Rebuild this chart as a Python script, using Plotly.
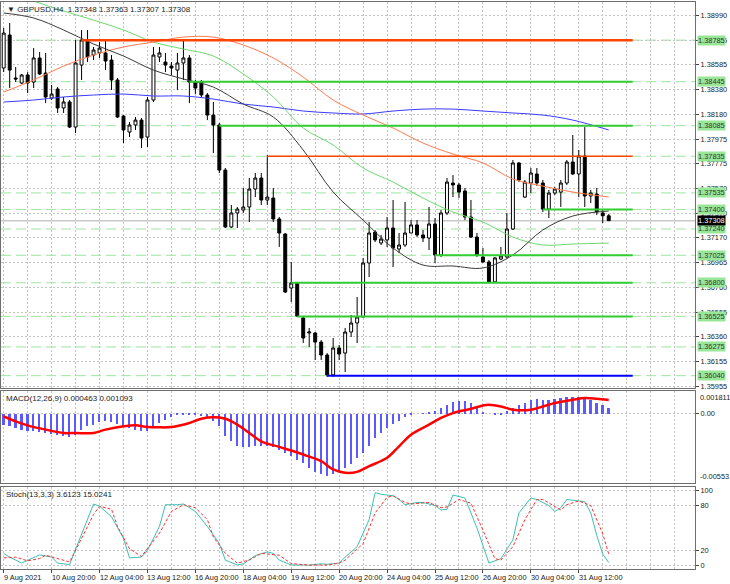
import plotly.graph_objects as go
from plotly.subplots import make_subplots

# GBPUSD H4 bars (index 0 = 9 Aug 12:00)
opens = [1.38557, 1.38827, 1.38475, 1.38434, 1.38500, 1.38442, 1.38639, 1.38516, 1.38311, 1.38385,
         1.38230, 1.38279, 1.38074, 1.38581, 1.38786, 1.38663, 1.38680, 1.38680, 1.38622, 1.38459,
         1.38164, 1.38033, 1.38091, 1.38131, 1.37992, 1.38295, 1.38647, 1.38606, 1.38573, 1.38540,
         1.38598, 1.38639, 1.38442, 1.38442, 1.38336, 1.38172, 1.38091, 1.37722, 1.37256, 1.37371,
         1.37395, 1.37420, 1.37567, 1.37657, 1.37477, 1.37493, 1.37322, 1.37199, 1.36757, 1.36798,
         1.36512, 1.36389, 1.36389, 1.36315, 1.36209, 1.36046, 1.36266, 1.36225, 1.36397, 1.36471,
         1.36520, 1.36962, 1.37215, 1.37125, 1.37150, 1.37248, 1.37076, 1.37109, 1.37207, 1.37273,
         1.37191, 1.37166, 1.37281, 1.37027, 1.37371, 1.37616, 1.37600, 1.37551, 1.37338, 1.37174,
         1.37011, 1.36970, 1.36807, 1.36994, 1.37011, 1.37240, 1.37780, 1.37501, 1.37616, 1.37690,
         1.37616, 1.37403, 1.37534, 1.37542, 1.37616, 1.37788, 1.37690, 1.37837, 1.37510, 1.37526,
         1.37371, 1.37348]
highs = [1.38884, 1.38925, 1.38565, 1.38508, 1.38524, 1.38720, 1.38688, 1.38680, 1.38418, 1.38401,
         1.38320, 1.38295, 1.38786, 1.38868, 1.38868, 1.38729, 1.38769, 1.38786, 1.38663, 1.38475,
         1.38172, 1.38115, 1.38156, 1.38148, 1.38320, 1.38729, 1.38729, 1.38680, 1.38606, 1.38680,
         1.38786, 1.38663, 1.38459, 1.38459, 1.38352, 1.38279, 1.38107, 1.37739, 1.37436, 1.37420,
         1.37575, 1.37657, 1.37698, 1.37698, 1.37845, 1.37575, 1.37338, 1.37207, 1.36970, 1.36807,
         1.36520, 1.36430, 1.36397, 1.36332, 1.36225, 1.36348, 1.36291, 1.36430, 1.36537, 1.36684,
         1.37003, 1.37297, 1.37232, 1.37191, 1.37338, 1.37477, 1.37207, 1.37461, 1.37313, 1.37313,
         1.37232, 1.37420, 1.37330, 1.37395, 1.37657, 1.37681, 1.37616, 1.37575, 1.37477, 1.37207,
         1.37084, 1.36986, 1.37011, 1.37093, 1.37371, 1.37804, 1.37788, 1.37641, 1.37739, 1.37739,
         1.37641, 1.37559, 1.37584, 1.37641, 1.37804, 1.38009, 1.37886, 1.38074, 1.37559, 1.37575,
         1.37395, 1.37363]
lows = [1.38524, 1.38393, 1.38442, 1.38426, 1.38352, 1.38393, 1.38500, 1.38270, 1.38295, 1.38189,
        1.38189, 1.38066, 1.38025, 1.38459, 1.38606, 1.38622, 1.38639, 1.38540, 1.38377, 1.38148,
        1.37943, 1.37992, 1.38050, 1.37902, 1.37911, 1.38279, 1.38606, 1.38524, 1.38500, 1.38377,
        1.38459, 1.38270, 1.38344, 1.38320, 1.38131, 1.37861, 1.37698, 1.37248, 1.37248, 1.37248,
        1.37371, 1.37297, 1.37501, 1.37436, 1.37436, 1.37297, 1.37093, 1.36716, 1.36642, 1.36520,
        1.36307, 1.36275, 1.36168, 1.36168, 1.36029, 1.36029, 1.36168, 1.36070, 1.36356, 1.36307,
        1.36520, 1.36847, 1.37133, 1.37109, 1.37093, 1.36929, 1.37044, 1.37093, 1.37207, 1.37174,
        1.37133, 1.37068, 1.36962, 1.37011, 1.37354, 1.37501, 1.37493, 1.37313, 1.37166, 1.37011,
        1.36962, 1.36798, 1.36798, 1.36986, 1.37003, 1.37232, 1.37624, 1.37493, 1.37534, 1.37592,
        1.37379, 1.37330, 1.37518, 1.37420, 1.37600, 1.37681, 1.37501, 1.37420, 1.37452, 1.37354,
        1.37289, 1.37307]
closes = [1.38843, 1.38540, 1.38467, 1.38500, 1.38434, 1.38639, 1.38508, 1.38320, 1.38344, 1.38230,
          1.38279, 1.38074, 1.38598, 1.38786, 1.38647, 1.38704, 1.38720, 1.38614, 1.38459, 1.38156,
          1.38050, 1.38091, 1.38131, 1.37984, 1.38295, 1.38663, 1.38680, 1.38581, 1.38557, 1.38598,
          1.38639, 1.38442, 1.38393, 1.38336, 1.38172, 1.38091, 1.37722, 1.37256, 1.37371, 1.37403,
          1.37420, 1.37567, 1.37657, 1.37477, 1.37501, 1.37322, 1.37207, 1.36724, 1.36798, 1.36528,
          1.36348, 1.36397, 1.36315, 1.36209, 1.36046, 1.36266, 1.36217, 1.36397, 1.36471, 1.36520,
          1.36962, 1.37207, 1.37150, 1.37158, 1.37248, 1.37084, 1.37109, 1.37207, 1.37273, 1.37191,
          1.37166, 1.37281, 1.37027, 1.37371, 1.37624, 1.37600, 1.37542, 1.37338, 1.37174, 1.37027,
          1.36970, 1.36807, 1.37003, 1.37019, 1.37240, 1.37780, 1.37641, 1.37624, 1.37698, 1.37616,
          1.37403, 1.37534, 1.37567, 1.37616, 1.37788, 1.37690, 1.37837, 1.37510, 1.37534, 1.37379,
          1.37348, 1.37308]
bars = list(range(len(closes)))

# moving averages, sampled every 5 bars
ma_bars = [0, 5, 10, 15, 20, 25, 30, 35, 40, 45, 50, 55, 60, 65, 70, 75, 80, 85, 90, 95, 101]
ma_black = [1.39007, 1.38966, 1.38868, 1.38753, 1.38655, 1.38540, 1.38467, 1.38401, 1.38262, 1.38156,
            1.37886, 1.37542, 1.37313, 1.37084, 1.36945, 1.36937, 1.36921, 1.37027, 1.37232, 1.37346, 1.37387]
ma_orange = [1.38360, 1.38459, 1.38573, 1.38663, 1.38729, 1.38769, 1.38810, 1.38810, 1.38745, 1.38639,
             1.38483, 1.38295, 1.38172, 1.38066, 1.37943, 1.37853, 1.37780, 1.37649, 1.37591, 1.37542, 1.37502]
ma_green = [1.39195, 1.39105, 1.39023, 1.38949, 1.38868, 1.38769, 1.38712, 1.38655, 1.38508, 1.38320,
            1.38066, 1.37927, 1.37739, 1.37624, 1.37493, 1.37379, 1.37297, 1.37174, 1.37109, 1.37117, 1.37125]
ma_blue = [1.38279, 1.38295, 1.38320, 1.38336, 1.38344, 1.38328, 1.38328, 1.38303, 1.38262, 1.38238,
           1.38205, 1.38189, 1.38181, 1.38205, 1.38221, 1.38221, 1.38205, 1.38189, 1.38172, 1.38131, 1.38050]

# horizontal levels
level_prices = [1.38785, 1.38445, 1.38085, 1.37835, 1.37535, 1.37400,
                1.37240, 1.37025, 1.36800, 1.36525, 1.36275, 1.36040]
solid_prices = [1.38785, 1.38445, 1.38085, 1.37835, 1.37400, 1.37025, 1.36800, 1.36525, 1.36040]
solid_start = [13, 31, 36, 44, 90, 72, 48, 49, 54]
solid_colors = ["#ff4500", "#32cd32", "#32cd32", "#ff4500", "#32cd32", "#32cd32", "#32cd32", "#32cd32", "#0000ff"]
solid_widths = [2.5, 2, 2, 1.3, 2, 2, 2, 2, 2]
last_price = 1.37308

price_ticks = [1.38990, 1.38785, 1.38585, 1.38380, 1.38180, 1.37975, 1.37775, 1.37570,
               1.37370, 1.37170, 1.36965, 1.36760, 1.36555, 1.36360, 1.36155, 1.35955]

# MACD(12,26,9)
macd_main = [-0.00087, -0.00101, -0.00114, -0.00127, -0.00140, -0.00140, -0.00146, -0.00154, -0.00162, -0.00172,
             -0.00180, -0.00188, -0.00167, -0.00127, -0.00101, -0.00087, -0.00066, -0.00061, -0.00066, -0.00082,
             -0.00101, -0.00114, -0.00127, -0.00140, -0.00140, -0.00109, -0.00074, -0.00048, -0.00029, -0.00013,
             -0.00008, -0.00003, -0.00008, -0.00021, -0.00034, -0.00061, -0.00101, -0.00180, -0.00220, -0.00260,
             -0.00268, -0.00268, -0.00260, -0.00260, -0.00260, -0.00268, -0.00286, -0.00313, -0.00339, -0.00366,
             -0.00392, -0.00432, -0.00464, -0.00480, -0.00498, -0.00485, -0.00464, -0.00437, -0.00405, -0.00352,
             -0.00313, -0.00260, -0.00193, -0.00154, -0.00114, -0.00082, -0.00056, -0.00029, -0.00003, 0.00000,
             0.00003, 0.00013, 0.00024, 0.00045, 0.00072, 0.00093, 0.00103, 0.00103, 0.00085, 0.00045,
             0.00013, 0.00000, -0.00008, -0.00003, 0.00019, 0.00045, 0.00072, 0.00085, 0.00111, 0.00119,
             0.00111, 0.00111, 0.00119, 0.00125, 0.00130, 0.00130, 0.00130, 0.00125, 0.00111, 0.00085,
             0.00068, 0.000463]
sig_bars = [0, 2, 4, 7, 10, 12, 15, 17, 20, 22, 24, 26, 28, 31, 33, 35, 37, 39, 41, 43, 46, 48, 50,
            53, 55, 57, 59, 61, 64, 66, 68, 71, 73, 75, 78, 80, 81, 83, 85, 88, 90, 92, 95, 97, 99, 101]
macd_signal = [-0.00021, -0.00061, -0.00093, -0.00127, -0.00154, -0.00154, -0.00154, -0.00127, -0.00101,
               -0.00093, -0.00106, -0.00109, -0.00106, -0.00074, -0.00040, -0.00029, -0.00040, -0.00087,
               -0.00154, -0.00220, -0.00265, -0.00294, -0.00326, -0.00379, -0.00445, -0.00472, -0.00464,
               -0.00419, -0.00352, -0.00260, -0.00167, -0.00087, -0.00034, 0.00005, 0.00040, 0.00066,
               0.00072, 0.00058, 0.00032, 0.00032, 0.00058, 0.00085, 0.00111, 0.00125, 0.00119, 0.001093]

# Stoch(13,3,3)
st_main_bars = [0, 1, 3, 6, 8, 9, 11, 15, 16, 18, 20, 21, 23, 24, 26, 27, 29, 30, 32, 34, 36, 37, 39, 40,
                42, 44, 45, 46, 48, 50, 51, 53, 54, 56, 57, 59, 61, 62, 63, 65, 66, 67, 69, 70, 72, 73,
                74, 75, 77, 79, 81, 83, 85, 86, 88, 89, 91, 92, 93, 94, 96, 97, 98, 99, 100, 101]
st_main = [16, 11, 3, 14, 11, 3, 1, 82, 79, 65, 36, 10, 11, 20, 52, 81, 81, 82, 72, 52, 29, 7, 0.5, 2,
           13, 18, 16, 7, 0.5, 0.3, 0.3, 2, 1.4, 3, 11, 25, 61, 97, 95, 93, 88, 81, 84, 84, 80, 74,
           75, 94, 90, 50, 3, 9, 34, 70, 90, 88, 80, 72, 77, 88, 86, 85, 70, 40, 15, 3.6123]
st_sig_bars = [0, 2, 4, 6, 7, 9, 11, 13, 15, 16, 18, 19, 21, 23, 26, 28, 30, 32, 34, 35, 37, 39, 41, 43,
               46, 48, 51, 54, 56, 57, 60, 62, 64, 65, 67, 68, 71, 73, 74, 76, 78, 80, 82, 83, 85, 87,
               89, 90, 92, 93, 94, 96, 98, 99, 100, 101]
st_signal = [10, 11, 6, 9, 13.5, 9, 4.5, 36, 68, 79, 75, 52, 22, 12, 43, 72, 81, 77, 61, 38, 16, 3, 7, 16,
             13.5, 2.3, 0.3, 0.5, 3, 7, 29, 70, 91, 93, 84, 82, 84, 77, 78, 88, 83, 47, 9, 7, 25, 61,
             88, 88, 79, 74, 81, 86, 80, 62, 42, 15.0241]

date_labels = ["9 Aug 2021", "10 Aug 20:00", "12 Aug 04:00", "13 Aug 12:00", "16 Aug 20:00",
               "18 Aug 04:00", "19 Aug 12:00", "20 Aug 20:00", "24 Aug 04:00", "25 Aug 12:00",
               "26 Aug 20:00", "30 Aug 04:00", "31 Aug 12:00"]
date_bars = [0, 8, 16, 24, 32, 40, 48, 56, 64, 72, 80, 88, 96]

FONT = "Liberation Sans"
AXFONT = dict(family=FONT, size=7.4, color="#222222")
TXFONT = dict(family=FONT, size=8, color="#222222")
DTFONT = dict(family=FONT, size=7.4, color="#222222")
GRID = "#c4c4c4"
FRAME = "#6e6e6e"
X_RANGE = [-0.45, 115.4]

fig = make_subplots(rows=3, cols=1, shared_xaxes=True, vertical_spacing=0.01)

fig.add_trace(go.Candlestick(
    x=bars, open=opens, high=highs, low=lows, close=closes,
    increasing=dict(line=dict(color="black", width=1), fillcolor="white"),
    decreasing=dict(line=dict(color="black", width=1), fillcolor="black"),
    whiskerwidth=0, showlegend=False, hoverinfo="skip"), row=1, col=1)

for vals, col in [(ma_blue, "#3a3aff"), (ma_green, "#6fd86f"), (ma_orange, "#ff7a50"), (ma_black, "#3a3a3a")]:
    fig.add_trace(go.Scatter(x=ma_bars, y=vals, mode="lines", line=dict(color=col, width=1, shape="spline"),
                             showlegend=False, hoverinfo="skip"), row=1, col=1)

fig.add_trace(go.Bar(x=bars, y=macd_main, marker_color="#5a5aff", marker_line_width=0, width=0.28,
                     showlegend=False, hoverinfo="skip"), row=2, col=1)
fig.add_trace(go.Scatter(x=sig_bars, y=macd_signal, mode="lines",
                         line=dict(color="#ff0000", width=2.5, shape="spline"),
                         showlegend=False, hoverinfo="skip"), row=2, col=1)

fig.add_trace(go.Scatter(x=st_main_bars, y=st_main, mode="lines", line=dict(color="#3cbfb2", width=1),
                         showlegend=False, hoverinfo="skip"), row=3, col=1)
fig.add_trace(go.Scatter(x=st_sig_bars, y=st_signal, mode="lines",
                         line=dict(color="#ff3030", width=1, dash="3px,2px"),
                         showlegend=False, hoverinfo="skip"), row=3, col=1)

shapes = []
for p in level_prices:
    shapes.append(dict(type="line", xref="paper", x0=0, x1=1, yref="y", y0=p, y1=p, layer="below",
                       line=dict(color="#9ee49e", width=1, dash="10px,5px")))
shapes.append(dict(type="line", xref="paper", x0=0, x1=1, yref="y", y0=last_price, y1=last_price,
                   layer="below", line=dict(color="#c8c8c8", width=1.5)))
for p, s, c, w in zip(solid_prices, solid_start, solid_colors, solid_widths):
    shapes.append(dict(type="line", xref="x", x0=s, x1=105, yref="y", y0=p, y1=p,
                       line=dict(color=c, width=w)))

annotations = []
for p in level_prices:
    annotations.append(dict(xref="paper", x=1, xanchor="left", xshift=2, yref="y", y=p,
                            text="%.5f" % p, showarrow=False, bgcolor="#98e698",
                            font=dict(AXFONT, color="#333333"), borderpad=0))
annotations.append(dict(xref="paper", x=1, xanchor="left", xshift=2, yref="y", y=last_price,
                        text="%.5f" % last_price, showarrow=False, bgcolor="#000000",
                        font=dict(AXFONT, color="#ffffff"), borderpad=0))
annotations.append(dict(xref="paper", x=0, xanchor="left", xshift=4, yref="y domain", y=1, yanchor="top",
                        yshift=-1, showarrow=False,
                        text="▼ GBPUSD,H4  %.5f %.5f %.5f %.5f" % (opens[-1], highs[-1], lows[-1], closes[-1]),
                        font=TXFONT))
annotations.append(dict(xref="paper", x=0, xanchor="left", xshift=3, yref="y2 domain", y=1, yanchor="top",
                        yshift=-1, showarrow=False,
                        text="MACD(12,26,9) %.6f %.6f" % (macd_main[-1], macd_signal[-1]),
                        font=TXFONT))
annotations.append(dict(xref="paper", x=1, xanchor="left", xshift=3, yref="y2 domain", y=1, yanchor="top",
                        showarrow=False, text="0.001811", font=AXFONT))
annotations.append(dict(xref="paper", x=1, xanchor="left", xshift=3, yref="y2 domain", y=0, yanchor="bottom",
                        showarrow=False, text="-0.00553", font=AXFONT))
annotations.append(dict(xref="paper", x=0, xanchor="left", xshift=3, yref="y3 domain", y=1, yanchor="top",
                        yshift=-1, showarrow=False,
                        text="Stoch(13,3,3) %.4f %.4f" % (st_main[-1], st_signal[-1]),
                        font=TXFONT))
for b, lab in zip(date_bars, date_labels):
    annotations.append(dict(xref="x3", x=b, xanchor="left", xshift=-2, yref="paper", y=0, yanchor="top",
                            yshift=-2, showarrow=False, text=lab, font=DTFONT))

grid_bars = list(range(0, 116, 4))
xcommon = dict(range=X_RANGE, tickmode="array", tickvals=grid_bars, showticklabels=False,
               showgrid=True, gridcolor=GRID, griddash="2px,2px", gridwidth=1, zeroline=False,
               showline=True, mirror=True, linecolor=FRAME, linewidth=1, ticks="")
ycommon = dict(side="right", showgrid=True, gridcolor=GRID, griddash="2px,2px", zeroline=False,
               showline=True, mirror=True, linecolor=FRAME, linewidth=1, ticks="outside", ticklen=3,
               tickcolor="#444444", tickfont=AXFONT)

fig.update_layout(
    width=730, height=584,
    margin=dict(l=1, r=35, t=2, b=15),
    paper_bgcolor="white", plot_bgcolor="white",
    font=TXFONT,
    showlegend=False, bargap=0,
    shapes=shapes, annotations=annotations,
    xaxis=dict(xcommon, rangeslider=dict(visible=False)),
    xaxis2=dict(xcommon),
    xaxis3=dict(xcommon, tickvals=date_bars, ticks="outside", ticklen=3, tickcolor="#444444",
                minor=dict(tickmode="array", tickvals=grid_bars, showgrid=True, gridcolor=GRID,
                           griddash="2px,2px", ticks="")),
    yaxis=dict(ycommon, domain=[0.3192, 1.0], range=[1.35939, 1.39097],
               tickvals=price_ticks, ticktext=["%.5f" % t for t in price_ticks]),
    yaxis2=dict(ycommon, domain=[0.1517, 0.3139], range=[-0.00553, 0.001811],
                tickvals=[0], ticktext=["0.00"]),
    yaxis3=dict(ycommon, domain=[0.0, 0.1446], range=[-4.9, 104.7],
                tickvals=[0, 20, 80, 100], ticktext=["0", "20", "80", "100"]),
)

fig.write_html("out.html", config={"displayModeBar": False},
               post_script="document.body.style.margin='0';")
